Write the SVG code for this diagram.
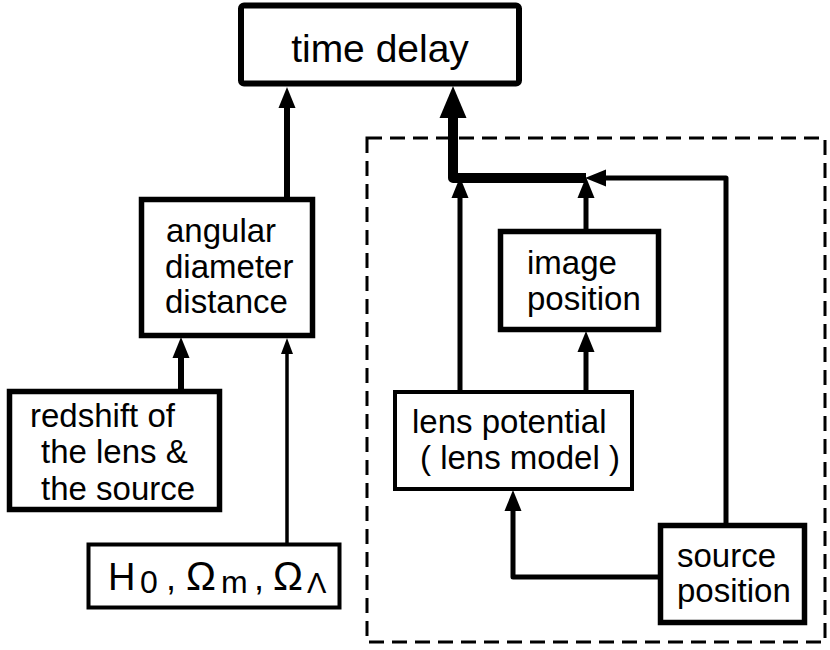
<svg xmlns="http://www.w3.org/2000/svg" width="830" height="650" viewBox="0 0 830 650">
<style>
  .box { fill: #fff; stroke: #000; }
  .thick { stroke-width: 5.5; }
  .thin { stroke-width: 4; }
  .lbl { font-family: "Liberation Sans", Arial, sans-serif; font-size: 33px; fill: #000; }
  .c { fill: none; stroke: #000; stroke-linejoin: round; }
</style>
<defs>
  <marker id="aBig" markerUnits="userSpaceOnUse" viewBox="0 -14 32 28" markerWidth="32" markerHeight="28" refX="0" refY="0" orient="auto">
    <path d="M0,-13.5 L32,0 L0,13.5 Z" fill="#000"/>
  </marker>
  <marker id="aMed" markerUnits="userSpaceOnUse" viewBox="0 -9 21 18" markerWidth="21" markerHeight="18" refX="0" refY="0" orient="auto">
    <path d="M0,-8.5 L21,0 L0,8.5 Z" fill="#000"/>
  </marker>
  <marker id="aSm" markerUnits="userSpaceOnUse" viewBox="0 -6.5 16 13" markerWidth="16" markerHeight="13" refX="0" refY="0" orient="auto">
    <path d="M0,-6 L16,0 L0,6 Z" fill="#000"/>
  </marker>
</defs>

<rect id="group-box" x="367" y="138" width="458" height="504" fill="none" stroke="#000" stroke-width="3" stroke-dasharray="15 8"/>

<g id="connectors">
  <path class="c" d="M287,197 L287,108" stroke-width="6" marker-end="url(#aMed)"/>
  <path class="c" d="M181,389 L181,358" stroke-width="6" marker-end="url(#aMed)"/>
  <path class="c" d="M287,543 L287,354" stroke-width="3.5" marker-end="url(#aSm)"/>
  <path class="c" d="M586,178 L453,178 L453,118" stroke-width="10" marker-end="url(#aBig)"/>
  <path class="c" d="M460,390 L460,198" stroke-width="5" marker-end="url(#aMed)"/>
  <path class="c" d="M586,390 L586,352" stroke-width="5" marker-end="url(#aMed)"/>
  <path class="c" d="M586,229 L586,198" stroke-width="5" marker-end="url(#aMed)"/>
  <path class="c" d="M726,523 L726,178 L606,178" stroke-width="5" marker-end="url(#aMed)"/>
  <path class="c" d="M658,577 L513,577 L513,511" stroke-width="5" marker-end="url(#aMed)"/>
</g>

<g id="time-delay">
  <rect class="box" x="241" y="5.5" width="278" height="78" rx="3" stroke-width="6"/>
  <text class="lbl" x="380" y="62" text-anchor="middle" style="font-size:39px">time delay</text>
</g>

<g id="angular-diameter-distance">
  <rect class="box thick" x="141.5" y="199.5" width="171" height="136"/>
  <text class="lbl" x="166" y="242">angular</text>
  <text class="lbl" x="165" y="278">diameter</text>
  <text class="lbl" x="165" y="313">distance</text>
</g>

<g id="redshift">
  <rect class="box thick" x="9.5" y="391.5" width="210" height="118"/>
  <text class="lbl" x="30" y="427">redshift of</text>
  <text class="lbl" x="41" y="463">the lens &amp;</text>
  <text class="lbl" x="41" y="500">the source</text>
</g>

<g id="cosmology">
  <rect class="box thin" x="88.5" y="544.5" width="251" height="63"/>
  <text class="lbl" y="590" style="font-size:38px"><tspan x="108">H</tspan><tspan x="140" y="593" style="font-size:32px">0</tspan><tspan x="166" y="590" style="font-size:36px">,</tspan><tspan x="186" y="590" style="font-size:40px">Ω</tspan><tspan x="221" y="593" style="font-size:32px">m</tspan><tspan x="254" y="590" style="font-size:36px">,</tspan><tspan x="273" y="590" style="font-size:40px">Ω</tspan><tspan x="307" y="593" style="font-size:29px">Λ</tspan></text>
</g>

<g id="image-position">
  <rect class="box thick" x="500.5" y="231.5" width="158" height="98"/>
  <text class="lbl" x="527" y="274">image</text>
  <text class="lbl" x="527" y="310">position</text>
</g>

<g id="lens-potential">
  <rect class="box thin" x="395" y="392" width="237" height="97"/>
  <text class="lbl" x="412" y="433">lens potential</text>
  <text class="lbl" x="420" y="469">( lens model )</text>
</g>

<g id="source-position">
  <rect class="box thick" x="660.5" y="525.5" width="144" height="97"/>
  <text class="lbl" x="677" y="567">source</text>
  <text class="lbl" x="677" y="602">position</text>
</g>
</svg>
